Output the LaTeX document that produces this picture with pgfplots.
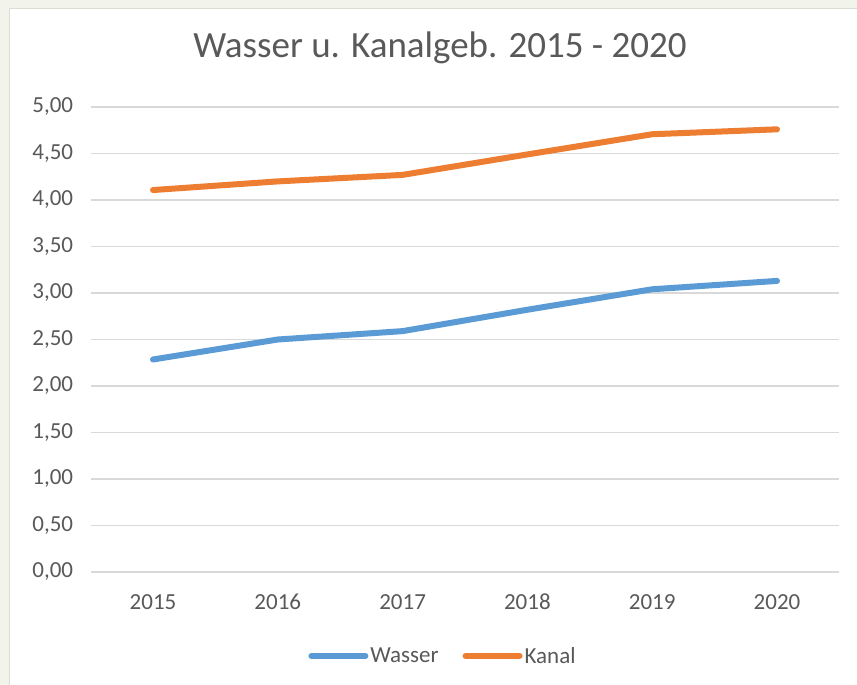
\documentclass[border=0pt]{standalone}
\usepackage{pgfplots}
\pgfplotsset{compat=1.18}
\usepackage{fontspec}
\setmainfont{Carlito}
\definecolor{bgouter}{HTML}{F2F4EC}
\definecolor{frameline}{HTML}{DCDED6}
\definecolor{gridgray}{HTML}{D9D9D9}
\definecolor{labelgray}{HTML}{595959}
\definecolor{wblue}{HTML}{5B9BD5}
\definecolor{korange}{HTML}{ED7D31}
\begin{document}
\begin{tikzpicture}
\path[use as bounding box] (0,0) rectangle (857pt,685pt);
\fill[bgouter] (0,0) rectangle (857pt,685pt);
\fill[white] (9pt,0) rectangle (857pt,676pt);
\draw[frameline, line width=1pt] (9pt,0) -- (9pt,676pt) -- (857pt,676pt);
\begin{axis}[
  at={(90.6pt,113pt)}, anchor=south west,
  scale only axis, width=748.8pt, height=465pt,
  xmin=-0.5, xmax=5.5, ymin=0, ymax=5,
  xtick={0,1,2,3,4,5}, xticklabels={2015,2016,2017,2018,2019,2020},
  ytick={0,0.5,1,1.5,2,2.5,3,3.5,4,4.5,5},
  ymajorgrids, grid style={color=gridgray, line width=1.4pt},
  axis line style={draw=none},
  major tick length=0pt,
  tick label style={font=\fontsize{23}{27}\selectfont, text=labelgray},
  yticklabel style={anchor=east, xshift=-14pt},
  xticklabel style={anchor=center, yshift=-30pt},
  /pgf/number format/assume math mode=true,
  yticklabel={\pgfmathprintnumber[fixed, fixed zerofill, precision=2, use comma]{\tick}},
  title={Wasser u. Kanalgeb. 2015 - 2020},
  title style={at={(axis description cs:0.4666,1.115)}, anchor=center,
    font=\fontsize{37}{42}\selectfont, text=labelgray},
  legend columns=2,
  legend style={at={(axis description cs:0.4706,-0.1806)}, anchor=center,
    draw=none, fill=none, font=\fontsize{23}{27}\selectfont, text=labelgray,
    /tikz/every even column/.append style={column sep=22pt}},
  legend image code/.code={\draw[#1, line cap=round] (0pt,0pt) -- (54pt,0pt);},
  every axis plot/.append style={line width=6pt, line join=round, line cap=round},
]
\addplot[wblue] coordinates {(0,2.285) (1,2.50) (2,2.59) (3,2.82) (4,3.04) (5,3.13)};
\addlegendentry{Wasser}
\addplot[korange] coordinates {(0,4.107) (1,4.20) (2,4.27) (3,4.49) (4,4.707) (5,4.76)};
\addlegendentry{Kanal}
\end{axis}
\end{tikzpicture}
\end{document}
